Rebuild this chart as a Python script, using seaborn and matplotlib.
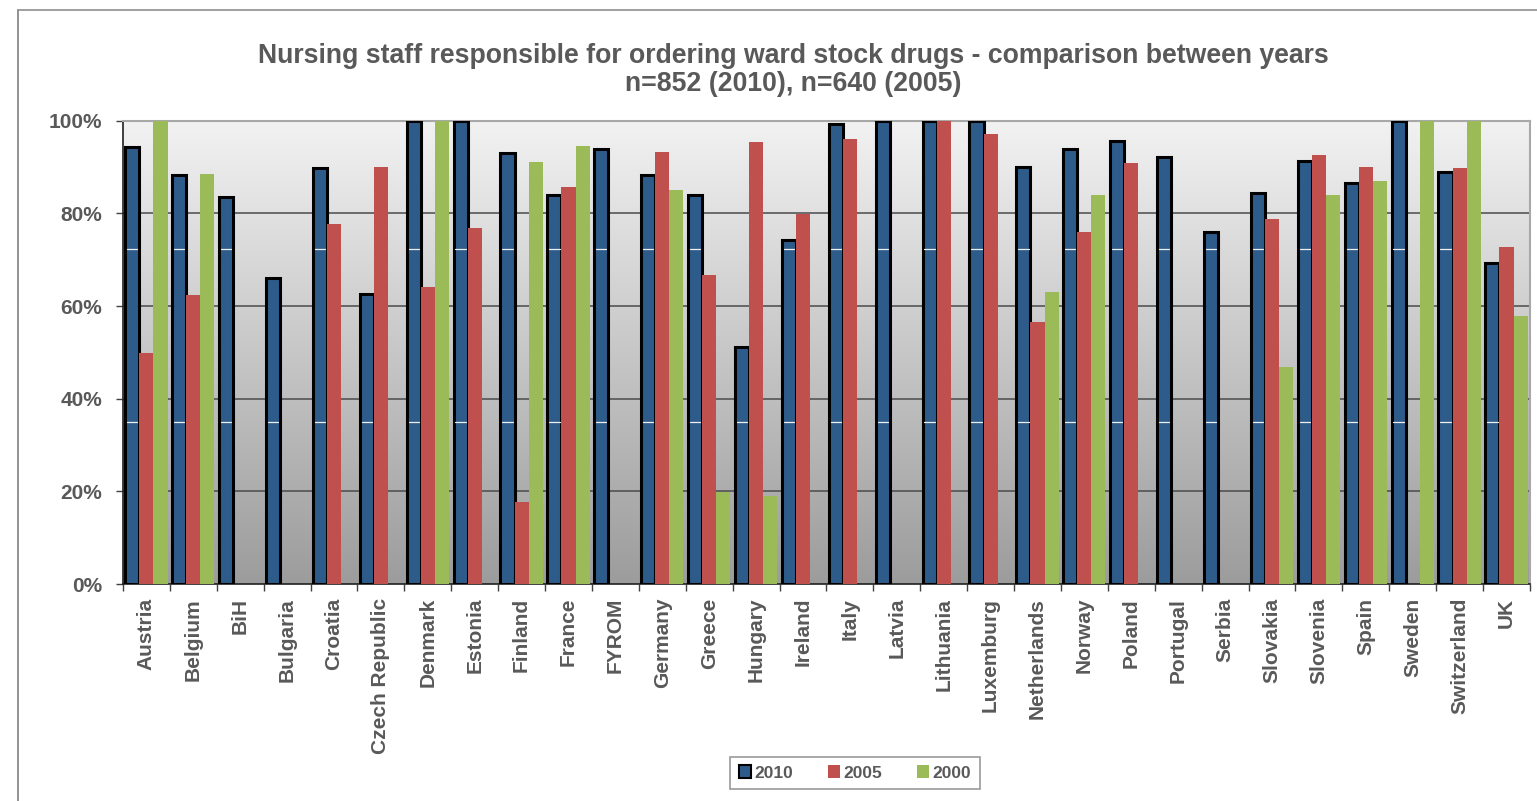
import numpy as np
import pandas as pd
import seaborn as sns
import matplotlib.pyplot as plt
from matplotlib.colors import LinearSegmentedColormap
from matplotlib.lines import Line2D
from matplotlib.patches import Patch

countries = ['Austria', 'Belgium', 'BiH', 'Bulgaria', 'Croatia', 'Czech Republic',
             'Denmark', 'Estonia', 'Finland', 'France', 'FYROM', 'Germany', 'Greece',
             'Hungary', 'Ireland', 'Italy', 'Latvia', 'Lithuania', 'Luxemburg',
             'Netherlands', 'Norway', 'Poland', 'Portugal', 'Serbia', 'Slovakia',
             'Slovenia', 'Spain', 'Sweden', 'Switzerland', 'UK']
nan = np.nan
y2010 = [94.4, 88.3, 83.5, 66.0, 89.8, 62.6, 100, 100, 93.1, 84.0, 93.8, 88.3, 84.0,
         51.1, 74.2, 99.3, 100, 100, 100, 90.1, 93.8, 95.6, 92.1, 75.9, 84.3, 91.4,
         86.5, 100, 89.0, 69.3]
y2005 = [49.9, 62.4, nan, nan, 77.8, 90.0, 64.2, 76.8, 17.8, 85.7, nan, 93.3, 66.7,
         95.5, 79.9, 96.0, nan, 100, 97.1, 56.5, 76.0, 90.8, nan, nan, 78.7, 92.7,
         90.1, nan, 89.7, 72.7]
y2000 = [100, 88.6, nan, nan, nan, nan, 100, nan, 91.1, 94.5, nan, 85.0, 19.8,
         19.1, nan, nan, nan, nan, nan, 63.0, 83.9, nan, nan, nan, 46.8, 83.9,
         86.9, 100, 100, 57.8]
years = ['2010', '2005', '2000']
colors = ['#2E5C8A', '#C0504D', '#9BBB59']
yticks = [0, 20, 40, 60, 80, 100]
# thin white lines that show across the 2010 bars in the original
bar_marks = [72.4, 34.9]

text_color = '#595959'

df = pd.DataFrame({'country': countries * 3,
                   'year': [y for y in years for _ in countries],
                   'value': y2010 + y2005 + y2000})

sns.set_theme(style='white')
plt.rcParams['font.family'] = ['Liberation Sans', 'DejaVu Sans']
plt.rcParams['font.weight'] = 'bold'

fig = plt.figure(figsize=(15.37, 8.01), dpi=100)
ax = fig.add_axes([0.0800, 0.2709, 0.9154, 0.5784])

sns.barplot(data=df, x='country', y='value', hue='year', hue_order=years,
            order=countries, palette=colors, width=0.9, errorbar=None,
            saturation=1, linewidth=0, legend=False, ax=ax, zorder=3)

for bar in ax.containers[0]:
    bar.set_edgecolor('black')
    bar.set_linewidth(2.2)
    x0, w = bar.get_x(), bar.get_width()
    for m in bar_marks:
        if bar.get_height() > m:
            ax.plot([x0 + 0.04, x0 + w - 0.04], [m, m], color='#F0F0F0', lw=0.9, zorder=4)

ax.set_xlim(-0.5, len(countries) - 0.5)
ax.set_ylim(0, 100)

# gradient plot background
cmap = LinearSegmentedColormap.from_list('bg', ['#F2F2F2', '#9C9C9C'])
ax.imshow(np.linspace(0, 1, 256).reshape(-1, 1), cmap=cmap, aspect='auto',
          extent=(-0.5, len(countries) - 0.5, 0, 100), zorder=0)

for v in yticks[1:-1]:
    ax.axhline(v, color='#4A4A4A', lw=1.1, zorder=1)

ax.set_yticks(yticks)
ax.set_yticklabels([f'{v}%' for v in yticks])
ax.set_xticks(range(len(countries)))
ax.set_xticklabels(countries, rotation=90)
ax.set_xticks(np.arange(-0.5, len(countries)), minor=True)
ax.tick_params(axis='x', which='major', length=0, pad=10, labelsize=15, labelcolor=text_color)
ax.tick_params(axis='x', which='minor', length=5, width=1, color='#404040', bottom=True)
ax.tick_params(axis='y', length=5, width=1, color='#404040', left=True, pad=10,
               labelsize=15, labelcolor=text_color)
for lab in ax.get_xticklabels() + ax.get_yticklabels():
    lab.set_fontweight('bold')
ax.set_xlabel('')
ax.set_ylabel('')

for s in ['left', 'bottom']:
    ax.spines[s].set_color('#202020')
    ax.spines[s].set_linewidth(1.2)
for s in ['top', 'right']:
    ax.spines[s].set_color('#A8A8A8')
    ax.spines[s].set_linewidth(1.5)

fig.text(0.516, 1 - 43 / 801,
         'Nursing staff responsible for ordering ward stock drugs - comparison between years\n'
         'n=852 (2010), n=640 (2005)',
         ha='center', va='top', fontsize=19.2, fontweight='bold', color=text_color,
         linespacing=1.12)

handles = [Patch(facecolor=colors[0], edgecolor='black', linewidth=1.5),
           Patch(facecolor=colors[1], edgecolor='none'),
           Patch(facecolor=colors[2], edgecolor='none')]
leg = fig.legend(handles, years, loc='center', bbox_to_anchor=(855 / 1537, 1 - 773 / 801),
                 ncol=3, frameon=True, fancybox=False, edgecolor='#808080',
                 handlelength=0.7, handleheight=0.7, handletextpad=0.2, columnspacing=2.0,
                 borderpad=0.5, prop={'size': 12.5, 'weight': 'bold'})
for t in leg.get_texts():
    t.set_color(text_color)
leg.get_frame().set_linewidth(1.2)

# outer chart frame (left and top edges visible)
fig.add_artist(Line2D([17.5 / 1537, 17.5 / 1537], [0, 1 - 10 / 801],
                      transform=fig.transFigure, color='#808080', lw=1.2))
fig.add_artist(Line2D([17.5 / 1537, 1], [1 - 10 / 801, 1 - 10 / 801],
                      transform=fig.transFigure, color='#909090', lw=1.2))

fig.savefig('out.png', dpi=100)
